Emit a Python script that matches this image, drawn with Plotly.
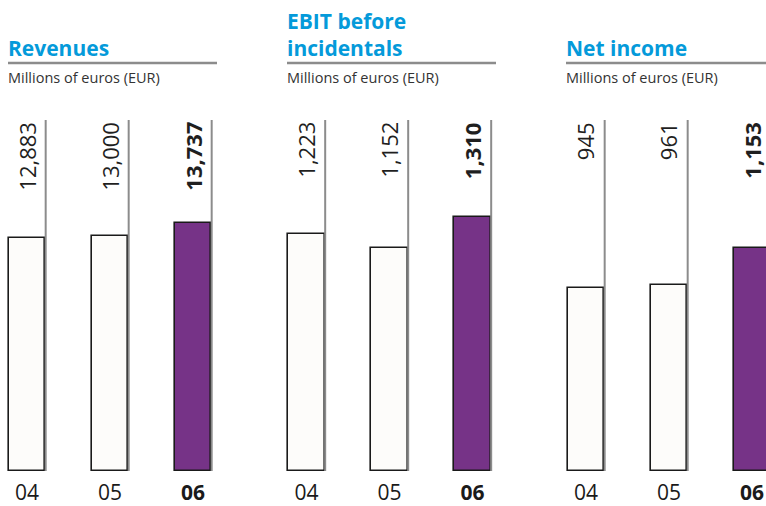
import plotly.graph_objects as go

# ---- data ----
years = ["04", "05", "06"]
revenues = [12883, 13000, 13737]
ebit = [1223, 1152, 1310]
net_income = [945, 961, 1153]
titles = ["Revenues", "EBIT before<br>incidentals", "Net income"]
subtitle = "Millions of euros (EUR)"

W, H = 766, 506
BLUE = "#049ada"
PURPLE = "#763387"
GRAY = "#8c8c8c"
WHITE = "#fdfcfa"
FONT = "Open Sans"

def px_x(p):
    return p / W

def px_y(p):
    return 1 - p / H

panels = [
    # values, first bar centre px, domain px, px per unit, title left px, underline end px
    (revenues, 27.0, (0, 232), 0.01808, 8, 217),
    (ebit, 306.5, (280, 512), 0.1937, 287, 496),
    (net_income, 586.0, (560, 766), 0.1937, 566, 766),
]
STEP = 83.0          # px between bars
BASE_PX = 471.0      # px of the zero line
LINE_TOP_PX = 120.0  # px of the top of the grey lines

fig = go.Figure()
shapes = []
annotations = []
for k, (vals, c0, (d0, d1), scale, tx, tend) in enumerate(panels):
    sfx = "" if k == 0 else str(k + 1)
    xa, ya = "x" + sfx, "y" + sfx
    colors = [WHITE, WHITE, PURPLE]
    fig.add_trace(go.Bar(
        x=list(range(len(years))), y=vals, width=0.445,
        marker=dict(color=colors, line=dict(color="#1a1a1a", width=1.6)),
        xaxis=xa, yaxis=ya, showlegend=False, hoverinfo="skip",
    ))
    r0 = (d0 - c0) / STEP
    r1 = (d1 - c0) / STEP
    fig.update_layout(**{
        "xaxis" + sfx: dict(domain=[px_x(d0), px_x(d1)], range=[r0, r1],
                            tickvals=list(range(len(years))),
                            ticktext=[y if i < 2 else "<b>%s</b>" % y for i, y in enumerate(years)],
                            tickfont=dict(family=FONT, size=21, color="#1a1a1a"),
                            ticklabelstandoff=7,
                            showgrid=False, zeroline=False, showline=False, ticks="",
                            anchor=ya, fixedrange=True),
        "yaxis" + sfx: dict(domain=[1 - BASE_PX / H, 1], range=[0, BASE_PX / scale],
                            visible=False, anchor=xa, fixedrange=True),
    })
    top_dom = (BASE_PX - LINE_TOP_PX) / BASE_PX
    for i, v in enumerate(vals):
        shapes.append(dict(type="line", xref=xa, yref=ya + " domain",
                           x0=i + 0.225, x1=i + 0.225, y0=0, y1=top_dom,
                           line=dict(color=GRAY, width=2), layer="above"))
        bold = i == len(vals) - 1
        txt = "{:,}".format(v)
        annotations.append(dict(
            xref=xa, yref=ya + " domain", x=i - 0.01, y=top_dom,
            text="<b>%s</b>" % txt if bold else txt,
            textangle=-90, xanchor="center", yanchor="top", showarrow=False,
            font=dict(family=FONT, size=22, color="#1f1f1f"),
        ))
    # title, underline, subtitle
    annotations.append(dict(
        xref="paper", yref="paper", x=px_x(tx - 2), y=px_y(63.5),
        text="<b>%s</b>" % titles[k], xanchor="left", yanchor="bottom",
        align="left", showarrow=False,
        font=dict(family=FONT, size=21, color=BLUE),
    ))
    shapes.append(dict(type="line", xref="paper", yref="paper",
                       x0=px_x(tx), x1=px_x(tend), y0=px_y(63), y1=px_y(63),
                       line=dict(color=GRAY, width=2.5)))
    annotations.append(dict(
        xref="paper", yref="paper", x=px_x(tx - 2), y=px_y(66),
        text=subtitle, xanchor="left", yanchor="top", showarrow=False,
        font=dict(family=FONT, size=14.5, color="#333333"),
    ))

fig.update_layout(
    width=W, height=H, margin=dict(l=0, r=0, t=0, b=0),
    paper_bgcolor="white", plot_bgcolor="rgba(0,0,0,0)",
    shapes=shapes, annotations=annotations, bargap=0,
)
fig.write_html("out.html", config={"displayModeBar": False})
